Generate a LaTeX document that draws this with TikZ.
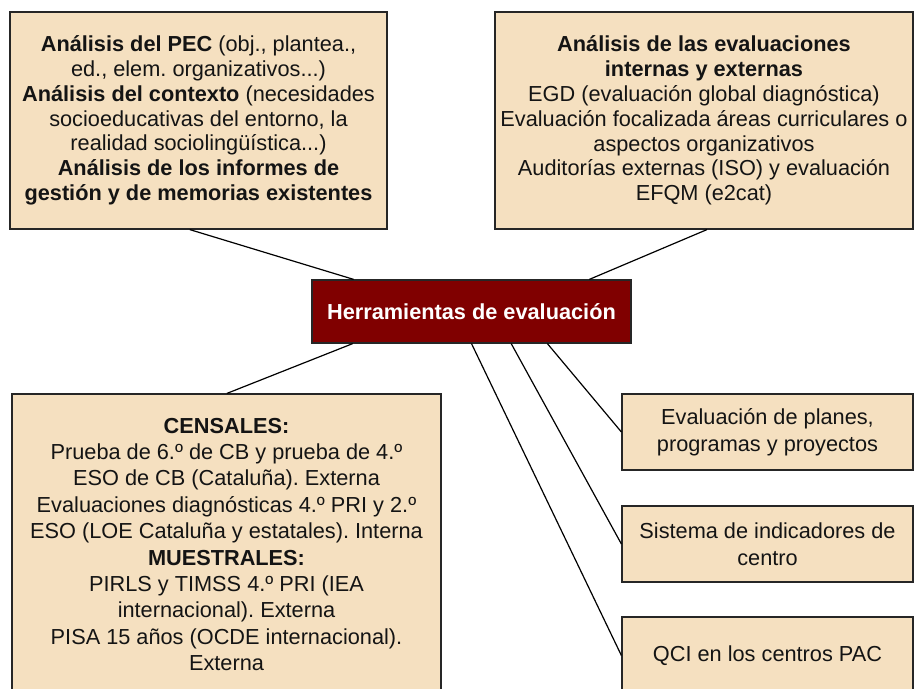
\documentclass[tikz,border=0pt]{standalone}
\usepackage{fontspec}
\setmainfont{Liberation Sans}
\usetikzlibrary{calc}
\frenchspacing
\definecolor{boxfill}{RGB}{245,224,192}
\definecolor{maroonbox}{RGB}{128,0,0}
\definecolor{txt}{RGB}{20,20,20}
\begin{document}
\begin{tikzpicture}[x=0.75pt,y=-0.75pt,
  box/.style={draw=black!85,line width=0.9pt,fill=boxfill,align=center,text=txt,inner sep=0pt},
  topbox/.style={box,font=\fontsize{16.3}{18.6}\selectfont\frenchspacing,minimum height=162.75pt},
  lowbox/.style={box,font=\fontsize{16.3}{19.8}\selectfont\frenchspacing},
  sidebox/.style={box,font=\fontsize{16.3}{20.5}\selectfont\frenchspacing,minimum width=218.25pt,minimum height=57pt},
  hub/.style={draw=black!85,line width=0.9pt,fill=maroonbox,text=white,font=\fontsize{16.3}{19}\selectfont\bfseries,minimum width=239.25pt,minimum height=47.25pt,inner sep=0pt},
  link/.style={draw=black,line width=0.9pt}]
\useasboundingbox (0,0) rectangle (914,689);

\node[topbox,minimum width=282.75pt] (tl) at (198.5,120.5) {%
\textbf{Análisis del PEC} (obj., plantea.,\\
ed., elem. organizativos...)\\
\textbf{Análisis del contexto} (necesidades\\
socioeducativas del entorno, la\\
realidad sociolingüística...)\\
\textbf{Análisis de los informes de}\\
\textbf{gestión y de memorias existentes}};

\node[topbox,minimum width=313.5pt] (tr) at (704,120.5) {%
\textbf{Análisis de las evaluaciones}\\
\textbf{internas y externas}\\
EGD (evaluación global diagnóstica)\\
Evaluación focalizada áreas curriculares o\\
aspectos organizativos\\
Auditorías externas (ISO) y evaluación\\
EFQM (e2cat)};

\node[hub] (c) at (471.5,311.5) {Herramientas de evaluación};

\node[lowbox,minimum width=321.75pt,minimum height=225.75pt] (bl) at (226.5,544.5) {%
\textbf{CENSALES:}\\
Prueba de 6.º de CB y prueba de 4.º\\
ESO de CB (Cataluña). Externa\\
Evaluaciones diagnósticas 4.º PRI y 2.º\\
ESO (LOE Cataluña y estatales). Interna\\
\textbf{MUESTRALES:}\\
PIRLS y TIMSS 4.º PRI (IEA\\
internacional). Externa\\
PISA 15 años (OCDE internacional).\\
Externa};

\node[sidebox] (r1) at (767.5,432) {Evaluación de planes,\\programas y proyectos};
\node[sidebox] (r2) at (767.5,544) {Sistema de indicadores de\\centro};
\node[sidebox,minimum height=57.75pt] (r3) at (767.5,655.5) {QCI en los centros PAC};

\draw[link] ($(tl.south west)!0.477!(tl.south east)$) -- ($(c.north west)!0.132!(c.north east)$);
\draw[link] ($(tr.south west)!0.507!(tr.south east)$) -- ($(c.north west)!0.868!(c.north east)$);
\draw[link] ($(c.south west)!0.129!(c.south east)$) -- ($(bl.north west)!0.501!(bl.north east)$);
\draw[link] ($(c.south west)!0.737!(c.south east)$) -- (r1.west);
\draw[link] ($(c.south west)!0.624!(c.south east)$) -- (r2.west);
\draw[link] (c.south) -- (r3.west);
\end{tikzpicture}
\end{document}
